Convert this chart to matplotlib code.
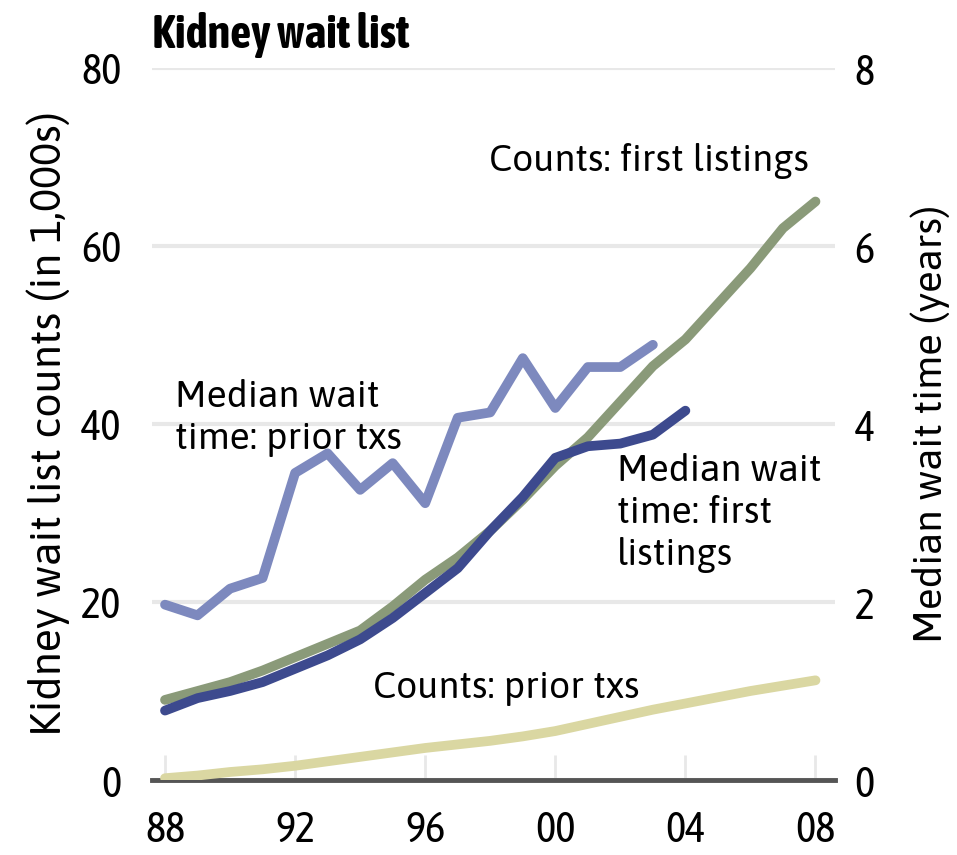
import matplotlib
matplotlib.use('Agg')
import matplotlib.pyplot as plt

plt.rcParams['font.family'] = ['Asap Condensed', 'Archivo Narrow', 'DejaVu Sans']
wide = ['Asap SemiCondensed', 'Asap', 'DejaVu Sans']

years = list(range(1988, 2009))
# counts in 1,000s (left axis)
counts_first = [9, 10, 11, 12.3, 13.8, 15.3, 16.8, 19.5, 22.5, 25, 28, 31.5, 35.3,
                38.5, 42.5, 46.5, 49.5, 53.5, 57.5, 62, 65]
counts_prior = [0.2, 0.5, 0.9, 1.2, 1.6, 2.1, 2.6, 3.1, 3.6, 4.0, 4.4, 4.9, 5.5,
                6.3, 7.1, 7.9, 8.6, 9.3, 10.0, 10.6, 11.2]
# median wait time in years (right axis)
wait_years = list(range(1988, 2005))
wait_first = [0.78, 0.92, 1.0, 1.1, 1.25, 1.4, 1.58, 1.82, 2.1, 2.38, 2.8, 3.18,
              3.62, 3.75, 3.78, 3.88, 4.15]
prior_years = list(range(1988, 2004))
wait_prior = [1.97, 1.85, 2.15, 2.27, 3.45, 3.67, 3.26, 3.56, 3.11, 4.07, 4.13,
              4.74, 4.18, 4.64, 4.64, 4.89]

xticks = [1988, 1992, 1996, 2000, 2004, 2008]
xticklabels = ['88', '92', '96', '00', '04', '08']

c_green = '#8a9a79'
c_yellow = '#dad7a2'
c_dark = '#3d4a8e'
c_light = '#7d89be'

fig = plt.figure(figsize=(9.57, 8.55), dpi=100)
ax = fig.add_axes([152/957, 75/855, 683/957, 712/855])
ax2 = ax.twinx()

ax.set_xlim(1987.6, 2008.6)
ax.set_ylim(0, 80)
ax2.set_ylim(0, 8)

for s in ['top', 'left', 'right']:
    ax.spines[s].set_visible(False)
    ax2.spines[s].set_visible(False)
ax2.spines['bottom'].set_visible(False)
ax.spines['bottom'].set_color('#555555')
ax.spines['bottom'].set_linewidth(3.5)

ax.set_yticks([0, 20, 40, 60, 80])
ax2.set_yticks([0, 2, 4, 6, 8])
ax.yaxis.grid(True, color='#e8e8e8', linewidth=3)
ax.set_axisbelow(True)
ax.tick_params(axis='y', length=0, labelsize=31, pad=22)
ax2.tick_params(axis='y', length=0, labelsize=31, pad=14)
ax.set_xticks(xticks)
ax.set_xticklabels(xticklabels)
ax.tick_params(axis='x', direction='in', length=18, width=2, color='#e8e8e8',
               labelsize=31, pad=21)

ax.set_ylabel('Kidney wait list counts (in 1,000s)', fontsize=31, labelpad=8,
              family=wide)
ax2.set_ylabel('Median wait time (years)', fontsize=29, labelpad=26, family=wide)

lw = 7
ax.plot(years, counts_prior, color=c_yellow, lw=lw, solid_capstyle='round', zorder=3)
ax.plot(years, counts_first, color=c_green, lw=lw, solid_capstyle='round', zorder=3)
ax2.plot(wait_years, wait_first, color=c_dark, lw=lw, solid_capstyle='round', zorder=4)
ax2.plot(prior_years, wait_prior, color=c_light, lw=lw, solid_capstyle='round', zorder=4)

ann = dict(fontsize=27, family=wide)
ax.text(2007.8, 69.5, 'Counts: first listings', ha='right', va='center', **ann)
ax.text(1988.3, 40.7, 'Median wait\ntime: prior txs', ha='left', va='center',
        linespacing=1.2, **ann)
ax2.text(2001.9, 3.0, 'Median wait\ntime: first\nlistings', ha='left',
         va='center', linespacing=1.2, **ann)
ax.text(2002.6, 10.3, 'Counts: prior txs', ha='right', va='center', **ann)

fig.text(152/957, 820/855, 'Kidney wait list', fontsize=33.5, fontweight='bold',
         ha='left', va='center')

fig.savefig('out.png', dpi=100)
